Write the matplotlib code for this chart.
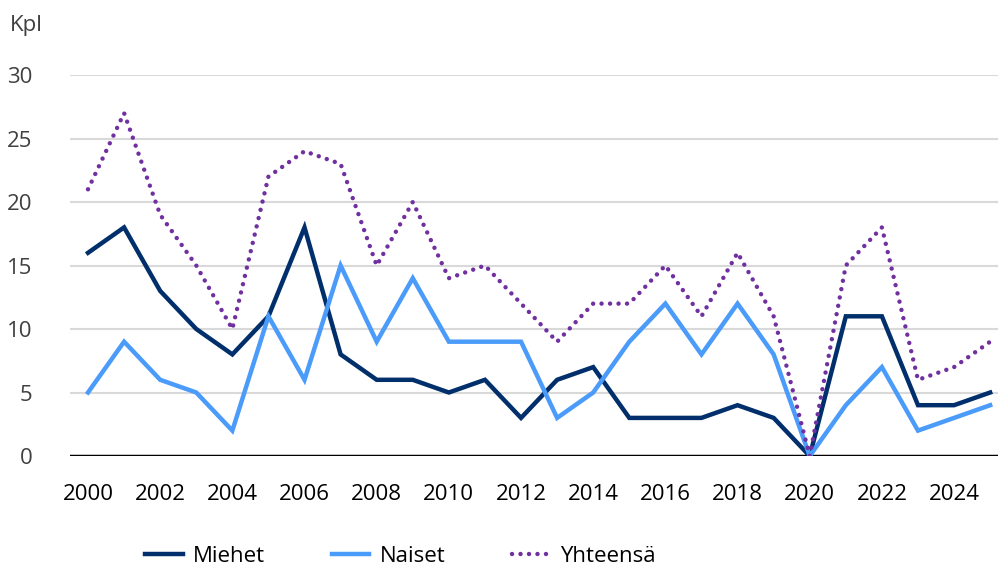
import matplotlib
matplotlib.use("Agg")
import matplotlib.pyplot as plt

plt.rcParams['font.family'] = ['Open Sans', 'DejaVu Sans']

# data
years = list(range(2000, 2026))
miehet = [16, 18, 13, 10, 8, 11, 18, 8, 6, 6, 5, 6, 3, 6, 7, 3, 3, 3, 4, 3, 0, 11, 11, 4, 4, 5]
naiset = [5, 9, 6, 5, 2, 11, 6, 15, 9, 14, 9, 9, 9, 3, 5, 9, 12, 8, 12, 8, 0, 4, 7, 2, 3, 4]
yhteensa = [21, 27, 19, 15, 10, 22, 24, 23, 15, 20, 14, 15, 12, 9, 12, 12, 15, 11, 16, 11, 0, 15, 18, 6, 7, 9]

fig = plt.figure(figsize=(9.98, 5.70), dpi=100)
ax = fig.add_axes([0.0701, 0.2, 0.93, 0.6684])

ax.plot(years, miehet, color='#002F6C', lw=3.2, label='Miehet', solid_joinstyle='miter')
ax.plot(years, naiset, color='#4A9BFA', lw=3.2, label='Naiset', solid_joinstyle='miter')
ax.plot(years, yhteensa, color='#7030A0', lw=3.2, linestyle=(0, (0.01, 1.9)),
        dash_capstyle='round', label='Yhteensä')

ax.set_xlim(1999.5, 2025.22)
ax.set_ylim(0, 30)
ax.set_yticks(range(0, 31, 5))
ax.set_xticks(range(2000, 2025, 2))
ax.grid(axis='y', color='#d9d9d9', lw=1.5)
ax.set_axisbelow(True)
ax.axhline(0, color='black', lw=2.5, zorder=1.5)
for s in ax.spines.values():
    s.set_visible(False)
ax.tick_params(length=0, labelsize=16, colors='#404040')
ax.tick_params(axis='x', pad=20, colors='black')
ax.tick_params(axis='y', pad=27)

fig.text(0.01, 0.955, 'Kpl', fontsize=16, color='#404040', va='center')

fig.legend(loc='center', bbox_to_anchor=(0.401, 0.024), ncol=3, frameon=False,
           fontsize=16, columnspacing=3.0, handlelength=1.7, handletextpad=0.45)

fig.savefig('out.png', dpi=100)
